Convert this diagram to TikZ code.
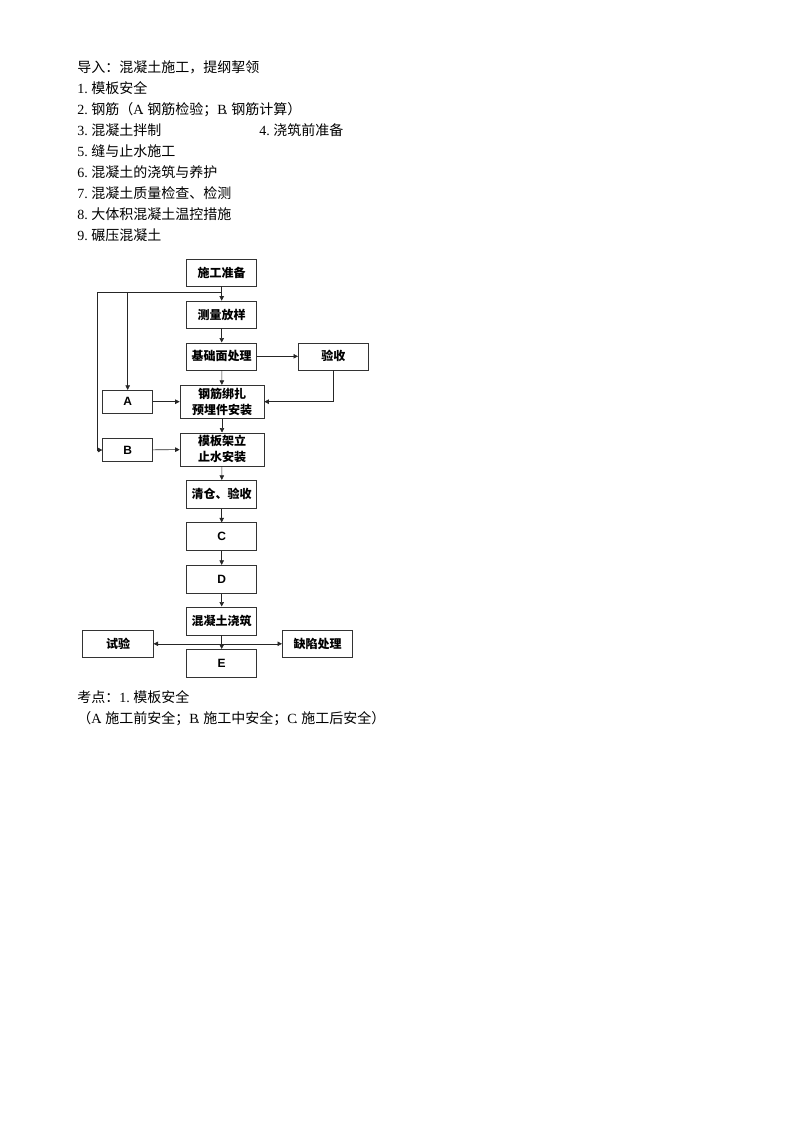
\documentclass[tikz,border=0pt]{standalone}
\usepackage{fontspec}
\setmainfont{Liberation Serif}
\newfontfamily\arial{Liberation Sans}
\newfontfamily\cjk{Noto Sans CJK SC}
\usepackage{tikz}
\usetikzlibrary{arrows.meta,positioning,calc}
\newcommand{\hw}[1]{\makebox[7pt][l]{\rmfamily #1}}
\tikzset{stage/.style={draw=black!80,rectangle,minimum width=70pt,minimum height=27pt,inner sep=0pt,align=center,font=\cjk\bfseries\fontsize{12}{15}\selectfont}}
\tikzset{letter/.style={stage,font=\arial\bfseries\fontsize{12}{14}\selectfont}}
\tikzset{line/.style={anchor=west,inner sep=0pt,font=\cjk\fontsize{14}{16}\selectfont}}

\begin{document}
\begin{tikzpicture}[->, >={Triangle[length=4.5pt,width=4.5pt]}, x=1pt, y=-1pt, line width=0.6pt, draw=black!85]
        \useasboundingbox (0,0) rectangle (800,1132);
        % intro text
        \node[line] (t0) at (77,67.5) {导入：混凝土施工，提纲挈领};
        \node[line] (t1) at (77,88.5) {\hw{1}\hw{.}模板安全};
        \node[line] (t2) at (77,109.5) {\hw{2}\hw{.}钢筋（\hw{A}\hw{.}钢筋检验；\hw{B}\hw{.}钢筋计算）};
        \node[line] (t3) at (77,130.5) {\hw{3}\hw{.}混凝土拌制};
        \node[line] (t4) at (259,130.5) {\hw{4}\hw{.}浇筑前准备};
        \node[line] (t5) at (77,151.5) {\hw{5}\hw{.}缝与止水施工};
        \node[line] (t6) at (77,172.5) {\hw{6}\hw{.}混凝土的浇筑与养护};
        \node[line] (t7) at (77,193.5) {\hw{7}\hw{.}混凝土质量检查、检测};
        \node[line] (t8) at (77,214.5) {\hw{8}\hw{.}大体积混凝土温控措施};
        \node[line] (t9) at (77,235.5) {\hw{9}\hw{.}碾压混凝土};
        % flow chart
        \node[stage] (prep) at (221.7,272.5) {施工准备};
        \node[stage] (survey) at (221.7,314.5) {测量放样};
        \node[stage] (base) at (221.7,356.3) {基础面处理};
        \node[stage] (accept) at (333.3,356.3) {验收};
        \node[stage,minimum width=84pt,minimum height=33pt,font=\cjk\bfseries\fontsize{12}{16}\selectfont] (rebar) at (222,401.7) {钢筋绑扎\\预埋件安装};
        \node[letter,minimum width=50pt,minimum height=23pt] (A) at (127.7,401.7) {A};
        \node[stage,minimum width=84pt,minimum height=33pt,font=\cjk\bfseries\fontsize{12}{16}\selectfont] (form) at (222,449.3) {模板架立\\止水安装};
        \node[letter,minimum width=50pt,minimum height=23pt] (B) at (127.7,450) {B};
        \node[stage,minimum height=28pt] (clean) at (221.7,494.2) {清仓、验收};
        \node[letter,minimum height=28pt] (C) at (221.7,536.7) {C};
        \node[letter,minimum height=28pt] (D) at (221.7,579.2) {D};
        \node[stage,minimum height=28pt] (pour) at (221.7,620.8) {混凝土浇筑};
        \node[letter,minimum height=28pt] (E) at (221.7,663.3) {E};
        \node[stage,minimum width=70.6pt,minimum height=27.7pt] (test) at (118,643.8) {试验};
        \node[stage,minimum width=70.4pt,minimum height=27.7pt] (fix) at (317.5,643.8) {缺陷处理};
        \coordinate (fork) at (221.7,292.7);
        \coordinate (far) at (97.3,292.7);
        \coordinate (mid) at (221.7,643.8);
        \path (prep) edge node {} (survey);
        \draw (fork) -| (A.north);
        \draw (fork) -- (far) |- (B.west);
        \path (survey) edge node {} (base);
        \path (base) edge node {} (accept);
        \path (base) edge node {} (rebar);
        \draw (accept.south) |- (rebar.east);
        \path (A) edge node {} (rebar);
        \path (rebar) edge node {} (form);
        \path (B) edge node {} (form);
        \path (form) edge node {} (clean);
        \path (clean) edge node {} (C);
        \path (C) edge node {} (D);
        \path (D) edge node {} (pour);
        \path (pour) edge node {} (E);
        \draw (mid) -- (test.east);
        \draw (mid) -- (fix.west);
        % key points
        \node[line] (k0) at (77,697.5) {考点：\hw{1}\hw{.}模板安全};
        \node[line] (k1) at (77,718.5) {（\hw{A}\hw{.}施工前安全；\hw{B}\hw{.}施工中安全；\hw{C}\hw{.}施工后安全）};
\end{tikzpicture}
\end{document}
